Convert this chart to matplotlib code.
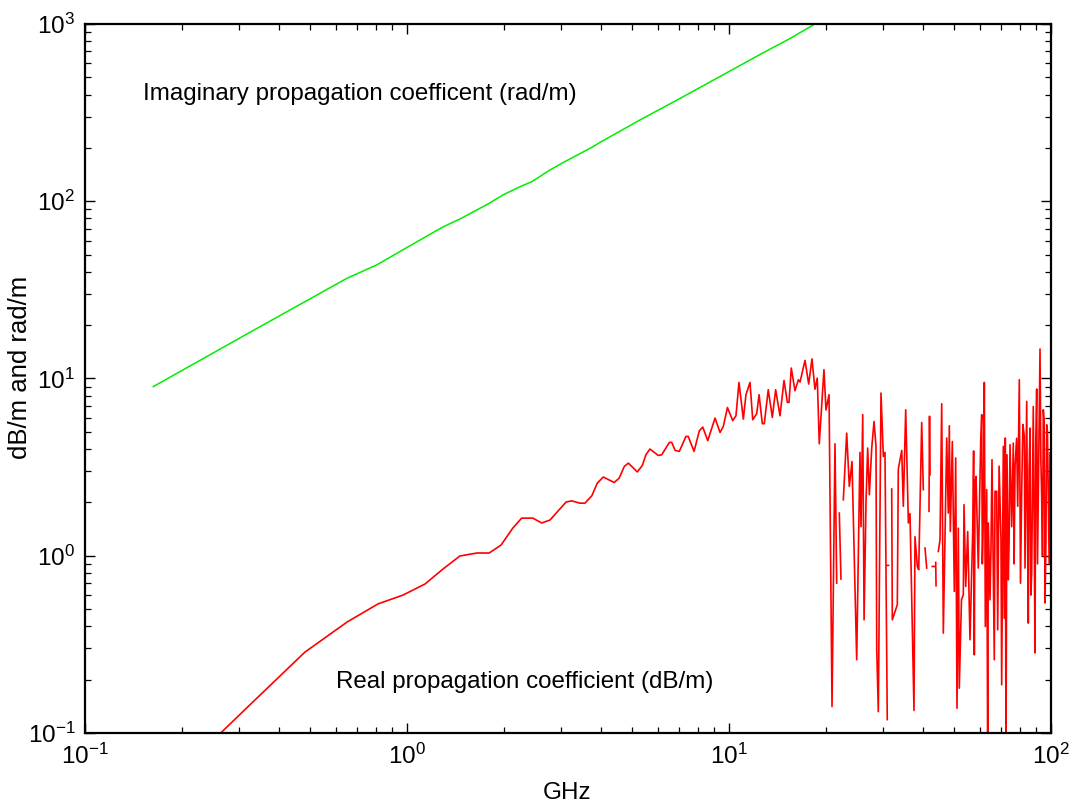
import numpy as np
import matplotlib
matplotlib.use("Agg")
import matplotlib.pyplot as plt
from matplotlib.ticker import LogLocator, NullFormatter

plt.rcParams['font.family'] = ['Liberation Sans', 'DejaVu Sans']
plt.rcParams['mathtext.fontset'] = 'custom'
plt.rcParams['mathtext.rm'] = 'Liberation Sans'
plt.rcParams['mathtext.it'] = 'Liberation Sans:italic'
plt.rcParams['mathtext.bf'] = 'Liberation Sans:bold'
plt.rcParams['axes.unicode_minus'] = False

# Imaginary propagation coefficient (rad/m)
imag_freq_ghz = [0.163, 0.325, 0.650, 0.805, 1.02, 1.297, 1.461, 1.646, 1.785, 1.987,
                 2.244, 2.44, 2.78, 3.05, 3.57, 3.78, 3.98, 5.29, 7.04, 9.38,
                 12.49, 15.47, 18.49, 20.0]
imag_rad_m = [9.0, 18.2, 36.7, 43.7, 56.0, 71.8, 79.4, 89.2, 96.5, 108.5,
              120.8, 128.9, 150.0, 165.0, 192.1, 203.0, 215.0, 287.3, 379.9, 505.6,
              673.0, 828.0, 1000.0, 1085.0]

nan = float('nan')
# Real propagation coefficient (dB/m); NaN marks gaps (non-positive values)
real_freq_ghz = [
    0.163, 0.325, 0.482, 0.652, 0.813, 0.972, 1.138, 1.294, 1.46, 1.65,
    1.80, 1.96, 2.13, 2.27, 2.46, 2.62, 2.78, 3.12, 3.25, 3.44,
    3.57, 3.75, 3.90, 4.07, 4.40, 4.56, 4.73, 4.87, 5.19, 5.38,
    5.52, 5.68, 6.03, 6.18, 6.37, 6.53, 6.64, 6.80, 7.01, 7.35,
    7.47, 7.79, 8.09, 8.29, 8.59, 9.05, 9.38, 9.60, 9.89, 10.27,
    10.51, 10.74, 11.08, 11.29, 11.62, 11.85, 12.19, 12.40, 12.69, 12.87,
    13.24, 13.63, 13.96, 14.40, 14.82, 15.18, 15.36, 15.61, 16.03, 16.42,
    16.62, 17.22, 17.68, 18.10, 18.49, 18.80, 19.07, 19.72, 20.01, 20.45,
    20.89, 21.34, 21.60, 21.80, 22.01, 22.27, 22.45, 22.65, 23.20, 23.64,
    24.10, 24.62, 24.92, 25.51, 25.70, 26.02, 26.27, 26.64, 26.96, 27.28,
    27.75, 28.21, 28.61, 28.76, 29.09, 29.65, 30.15, 30.51, 31.01, 31.05,
    31.1, 31.3, 31.6, 32.01, 32.15, 33.32, 33.56, 34.39, 34.78, 35.38,
    36.06, 36.48, 37.54, 37.81, 38.45, 38.83, 39.67, 40.13, 40.4, 40.62,
    41.11, 41.5, 41.79, 41.95, 42.09, 42.4, 42.8, 43.4, 43.6, 43.85,
    43.95, 44.3, 44.67, 45.22, 45.77, 46.30, 47.44, 47.98, 48.33, 48.68,
    49.38, 50.09, 50.58, 51.06, 51.54, 51.90, 52.72, 53.42, 53.68, 54.34,
    55.12, 56.03, 57.13, 57.79, 58.08, 58.50, 59.46, 60.49, 60.93, 61.64,
    62.08, 62.52, 63.14, 63.59, 63.87, 64.65, 65.58, 66.67, 67.00, 67.81,
    68.30, 69.93, 70.28, 71.10, 71.61, 72.12, 72.47, 73.00, 73.68, 74.59,
    75.50, 76.37, 77.31, 78.81, 79.72, 81.10, 82.62, 83.04, 84.05, 85.02,
    86.07, 87.10, 88.10, 89.19, 90.27, 91.31, 92.44, 93.56, 94.64, 95.81,
    96.96, 98.09, 99.29,
]
real_db_m = [
    0.043, 0.144, 0.286, 0.423, 0.535, 0.600, 0.693, 0.842, 0.997, 1.036,
    1.036, 1.15, 1.43, 1.63, 1.63, 1.53, 1.59, 2.01, 2.04, 1.98,
    1.98, 2.18, 2.57, 2.78, 2.59, 2.74, 3.19, 3.33, 2.97, 3.23,
    3.71, 4.00, 3.68, 3.71, 4.05, 4.36, 4.36, 3.93, 3.88, 4.71,
    4.71, 3.88, 5.07, 5.32, 4.46, 5.98, 4.96, 5.36, 6.86, 5.78,
    6.16, 9.50, 5.90, 8.10, 9.50, 5.85, 6.33, 8.10, 5.56, 5.56,
    8.64, 6.03, 8.64, 6.16, 9.75, 7.33, 7.33, 11.45, 8.53, 9.84,
    9.55, 12.65, 9.30, 12.90, 8.70, 10.06, 4.28, 11.21, 6.64, 8.10,
    0.141, 4.28, 0.701, nan, 1.74, 0.739, nan, 2.07, 4.92, 2.46,
    3.40, 0.677, 0.259, 3.83, 1.46, 6.25, 0.435, 2.02, 4.05, 2.21,
    4.05, 5.72, 4.14, 0.295, 0.132, 8.28, 3.63, 3.83, 0.119, nan,
    0.882, 0.882, nan, 2.38, 0.435, 0.529, 3.08, 3.93, 1.90, 6.66,
    1.53, 1.73, 0.134, 1.28, 0.870, 0.834, 5.65, 2.36, nan, 1.105,
    0.852, nan, 1.78, 6.12, 2.86, nan, 0.870, 0.870, nan, 0.917,
    0.677, nan, 1.057, 1.23, 7.20, 0.366, 4.61, 1.74, 5.41, 1.37,
    4.41, 0.629, 3.56, 0.138, 1.43, 0.179, 0.565, 0.603, 1.94, 0.671,
    1.37, 0.336, 1.37, 0.276, 2.57, 2.80, 0.852, 4.41, 6.25, 1.67,
    9.50, 0.399, 2.36, 0.0707, 1.53, 0.565, 3.48, 0.259, 2.31, 2.31,
    0.382, 1.23, 0.187, 4.14, 0.445, 4.61, 0.0707, 3.71, 0.732, 4.23,
    1.46, 4.32, 3.19, 1.90, 9.84, 2.36, 4.71, 0.852, 7.42, 0.417,
    5.25, 0.799, 6.95, 0.283, 8.72, 2.16, 14.66, 2.16, 6.66, 0.541,
    5.48, 2.07, 3.80,
]
# additional readings in the dense high-frequency band
real_extra_freq_ghz = [57.5, 61.2, 65.1, 69.0, 74.1, 76.8, 78.2, 80.4, 81.8, 84.5,
                       85.5, 86.6, 88.6, 89.7, 90.8, 93.0, 94.1, 95.2, 96.4, 97.5,
                       98.7]
real_extra_db_m = [3.9, 0.9, 1.1, 3.2, 1.2, 0.9, 4.6, 0.7, 5.5, 1.5,
                   3.0, 0.6, 1.8, 4.5, 0.9, 3.5, 1.0, 5.8, 1.1, 5.0,
                   0.9]

x_tick_values = [0.1, 1, 10, 100]
y_tick_values = [0.1, 1, 10, 100, 1000]

real_pairs = sorted(zip(real_freq_ghz + real_extra_freq_ghz,
                        real_db_m + real_extra_db_m), key=lambda p: p[0])
real_x = [p[0] for p in real_pairs]
real_y = [p[1] for p in real_pairs]

fig = plt.figure(figsize=(10.73, 8.07), dpi=100)
ax = fig.add_axes([0.0792, 0.0917, 0.9003, 0.8786])

ax.plot(imag_freq_ghz, imag_rad_m, color='#00ee00', lw=1.1)
ax.plot(real_x, real_y, color='#ff0000', lw=1.2)

ax.set_xscale('log')
ax.set_yscale('log')
ax.set_xlim(0.1, 100)
ax.set_ylim(0.1, 1000)
ax.set_xticks(x_tick_values)
ax.set_yticks(y_tick_values)
ax.xaxis.set_minor_locator(LogLocator(base=10, subs=np.arange(2, 10)))
ax.yaxis.set_minor_locator(LogLocator(base=10, subs=np.arange(2, 10)))
ax.xaxis.set_minor_formatter(NullFormatter())
ax.yaxis.set_minor_formatter(NullFormatter())

for s in ax.spines.values():
    s.set_linewidth(1.6)
ax.tick_params(which='both', direction='in', top=True, right=True)
ax.tick_params(which='major', length=7, width=1.0, labelsize=17.5)
ax.tick_params(which='minor', length=4, width=0.9)
ax.tick_params(axis='x', which='major', pad=8)
ax.tick_params(axis='y', which='major', pad=7)

ax.set_xlabel('GHz', fontsize=17.5)
ax.set_ylabel('dB/m and rad/m', fontsize=18.5)
ax.xaxis.set_label_coords(0.4986, -0.069)
ax.yaxis.set_label_coords(-0.055, 0.516)

ax.text(0.1514, 404, 'Imaginary propagation coefficent (rad/m)', fontsize=17.4,
        ha='left', va='center')
ax.text(0.602, 0.1945, 'Real propagation coefficient (dB/m)', fontsize=17.4,
        ha='left', va='center')

fig.savefig('out.png', dpi=100)
